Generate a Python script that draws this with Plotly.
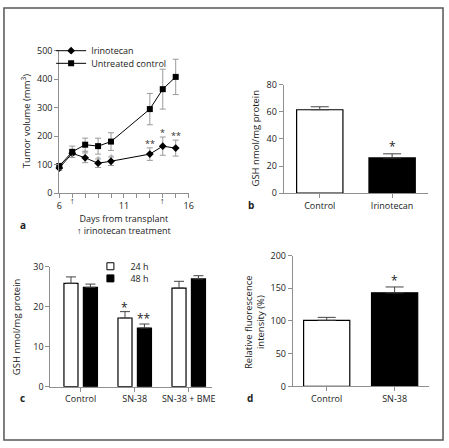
import plotly.graph_objects as go

# ---------------- data ----------------
days = [6, 7, 8, 9, 10, 13, 14, 15]
irinotecan = [88, 140, 124, 105, 112, 137, 165, 158]
irinotecan_err = [8, 8, 17, 15, 15, 22, 32, 28]
control = [95, 145, 170, 165, 181, 295, 365, 408]
control_err = [10, 20, 23, 28, 31, 55, 70, 62]
sig_a = ["", "", "*", "*", "*", "**", "*", "**"]
sig_a_gray = [False, False, True, True, True, False, False, False]
treatment_days = [7, 14]
a_xticks = [6, 11, 16]

b_cats = ["Control", "Irinotecan"]
b_gsh = [61.5, 26]
b_err = [2.2, 3]
b_sig = ["", "*"]

c_groups = ["Control", "SN-38", "SN-38 + BME"]
c_24h = [25.9, 17.2, 24.7]
c_24h_err = [1.6, 1.6, 1.7]
c_48h = [24.9, 14.7, 27.0]
c_48h_err = [0.8, 1.0, 0.8]
c_sig_24h = ["", "*", ""]
c_sig_48h = ["", "**", ""]

d_cats = ["Control", "SN-38"]
d_fluor = [101, 143]
d_err = [4.5, 9]
d_sig = ["", "*"]

# ---------------- style ----------------
W, H = 449, 448
FONT = "Open Sans"
TXT = "#222222"
AX = "#8f8f8f"


def px_x(p):
    return p / W


def px_y(p):
    return 1 - p / H


fig = go.Figure()

# Panel a
fig.add_trace(go.Scatter(
    x=days, y=irinotecan, name="Irinotecan", mode="lines+markers",
    line=dict(color="black", width=1),
    marker=dict(symbol="diamond", size=6, color="black"),
    error_y=dict(type="data", array=irinotecan_err, color="#9a9a9a", thickness=1, width=3),
    xaxis="x", yaxis="y", legend="legend", cliponaxis=False))
fig.add_trace(go.Scatter(
    x=days, y=control, name="Untreated control", mode="lines+markers",
    line=dict(color="black", width=1),
    marker=dict(symbol="square", size=6, color="black"),
    error_y=dict(type="data", array=control_err, color="#9a9a9a", thickness=1, width=3),
    xaxis="x", yaxis="y", legend="legend3", cliponaxis=False))

# Panel b
fig.add_trace(go.Bar(
    x=b_cats, y=b_gsh, width=0.64,
    marker=dict(color=["white", "black"], line=dict(color="black", width=1.2)),
    error_y=dict(type="data", symmetric=False, array=b_err, arrayminus=[0, 0],
                 color="#444", thickness=1, width=9),
    xaxis="x2", yaxis="y2", showlegend=False))

# Panel c
c_idx = list(range(len(c_groups)))
fig.add_trace(go.Bar(
    x=c_idx, y=c_24h, width=0.26, offset=-0.31,
    marker=dict(color="white", line=dict(color="black", width=1.2)),
    error_y=dict(type="data", symmetric=False, array=c_24h_err, arrayminus=[0] * 3,
                 color="#444", thickness=1, width=5),
    xaxis="x3", yaxis="y3", showlegend=False))
fig.add_trace(go.Bar(
    x=c_idx, y=c_48h, width=0.26, offset=0.05,
    marker=dict(color="black", line=dict(color="black", width=1.2)),
    error_y=dict(type="data", symmetric=False, array=c_48h_err, arrayminus=[0] * 3,
                 color="#444", thickness=1, width=5),
    xaxis="x3", yaxis="y3", showlegend=False))
fig.add_trace(go.Scatter(
    x=[None], y=[None], mode="markers", name="24 h",
    marker=dict(symbol="square", size=7, color="white", line=dict(color="black", width=1)),
    xaxis="x3", yaxis="y3", legend="legend2"))
fig.add_trace(go.Scatter(
    x=[None], y=[None], mode="markers", name="48 h",
    marker=dict(symbol="square", size=7, color="black", line=dict(color="black", width=1)),
    xaxis="x3", yaxis="y3", legend="legend4"))

# Panel d
fig.add_trace(go.Bar(
    x=d_cats, y=d_fluor, width=0.68,
    marker=dict(color=["white", "black"], line=dict(color="black", width=1.2)),
    error_y=dict(type="data", symmetric=False, array=d_err, arrayminus=[0, 0],
                 color="#444", thickness=1, width=9),
    xaxis="x4", yaxis="y4", showlegend=False))

axis_common = dict(
    showline=True, linecolor=AX, linewidth=1, ticks="outside", ticklen=4,
    tickcolor=AX, tickwidth=1, showgrid=False, zeroline=False,
    tickfont=dict(family=FONT, size=9, color=TXT), fixedrange=True)

annotations = []
shapes = []


def leg(x, y, size=9.5):
    return dict(x=px_x(x), y=px_y(y), xanchor="left", yanchor="middle",
                bgcolor="rgba(0,0,0,0)", font=dict(family=FONT, size=size, color=TXT),
                itemwidth=30)


layout = dict(
    width=W, height=H, autosize=False,
    margin=dict(l=0, r=0, t=0, b=0),
    paper_bgcolor="white", plot_bgcolor="white",
    font=dict(family=FONT, size=9, color=TXT),
    barmode="overlay",
    xaxis=dict(domain=[px_x(57.3), px_x(189)], range=[6, 16],
               tickvals=a_xticks, anchor="y",
               minor=dict(dtick=1, ticks="outside", ticklen=4, tickcolor=AX),
               **axis_common),
    yaxis=dict(domain=[px_y(191.7), px_y(45)], range=[0, 500], dtick=100,
               anchor="x", **axis_common),
    xaxis2=dict(domain=[px_x(285.7), px_x(433)], range=[-0.5, 1.5],
                anchor="y2", **axis_common),
    yaxis2=dict(domain=[px_y(191.7), px_y(80)], range=[0, 80], dtick=20,
                anchor="x2", **axis_common),
    xaxis3=dict(domain=[px_x(48.3), px_x(213.3)], range=[-0.56, 2.44],
                tickvals=c_idx, ticktext=c_groups, anchor="y3", **axis_common),
    yaxis3=dict(domain=[px_y(391), px_y(267.7)], range=[0, 30], dtick=10,
                anchor="x3", **axis_common),
    xaxis4=dict(domain=[px_x(295), px_x(433.3)], range=[-0.5, 1.5],
                anchor="y4", **axis_common),
    yaxis4=dict(domain=[px_y(390.7), px_y(256)], range=[0, 200], dtick=50,
                anchor="x4", **axis_common),
    legend=leg(49, 45, 9),
    legend3=leg(49, 58, 9),
    legend2=leg(89, 267, 9),
    legend4=leg(89, 279.5, 9),
)

# significance in panel a
for d, v, e, s, g in zip(days, irinotecan, irinotecan_err, sig_a, sig_a_gray):
    if s:
        annotations.append(dict(
            x=d, y=v + e, xref="x", yref="y", text=s, showarrow=False,
            yanchor="bottom", yshift=-4 if not g else -6,
            font=dict(family=FONT, size=9 if not g else 8, color="#333" if not g else "#999")))

# treatment arrows
for t in treatment_days:
    annotations.append(dict(
        x=t, y=px_y(199), xref="x", yref="paper", text="↑", showarrow=False,
        xanchor="center", yanchor="middle",
        font=dict(family=FONT, size=9, color=TXT)))


def star(x, y, xref, yref, s, shift):
    annotations.append(dict(x=x, y=y, xref=xref, yref=yref, text=s,
                            showarrow=False, yanchor="bottom", yshift=shift,
                            font=dict(family=FONT, size=12, color=TXT)))


for c, v, e, s in zip(b_cats, b_gsh, b_err, b_sig):
    if s:
        star(c, v + e, "x2", "y2", s, -3)
for i, v, e, s in zip(c_idx, c_24h, c_24h_err, c_sig_24h):
    if s:
        star(i - 0.18, v + e, "x3", "y3", s, -6)
for i, v, e, s in zip(c_idx, c_48h, c_48h_err, c_sig_48h):
    if s:
        star(i + 0.18, v + e, "x3", "y3", s, -5)
for c, v, e, s in zip(d_cats, d_fluor, d_err, d_sig):
    if s:
        star(c, v + e, "x4", "y4", s, -4)


def label(text, x, y, angle=0, size=9.5, bold=False):
    annotations.append(dict(
        x=px_x(x), y=px_y(y), xref="paper", yref="paper",
        text=f"<b>{text}</b>" if bold else text, showarrow=False,
        textangle=angle, xanchor="center", yanchor="middle",
        font=dict(family=FONT, size=size, color=TXT)))


label("Tumor volume (mm<sup>3</sup>)", 23, 118, angle=-90)
label("Days from transplant<br>↑ irinotecan treatment", 123, 224, size=9)
label("GSH nmol/mg protein", 257, 135, angle=-90)
label("GSH nmol/mg protein", 14, 329, angle=-90)
label("Relative fluorescence<br>intensity (%)", 256, 324, angle=-90)
label("a", 20, 225, size=10, bold=True)
label("b", 253, 204, size=10, bold=True)
label("c", 20, 403, size=10, bold=True)
label("d", 251, 403, size=10, bold=True)

shapes.append(dict(type="rect", xref="paper", yref="paper",
                   x0=px_x(1), x1=px_x(448), y0=px_y(446), y1=px_y(1),
                   line=dict(color="#555", width=1.5)))

layout["annotations"] = annotations
layout["shapes"] = shapes
fig.update_layout(**layout)

fig.write_html("out.html", config={"displayModeBar": False},
               post_script="document.body.style.margin='0';document.body.style.overflow='hidden';")
